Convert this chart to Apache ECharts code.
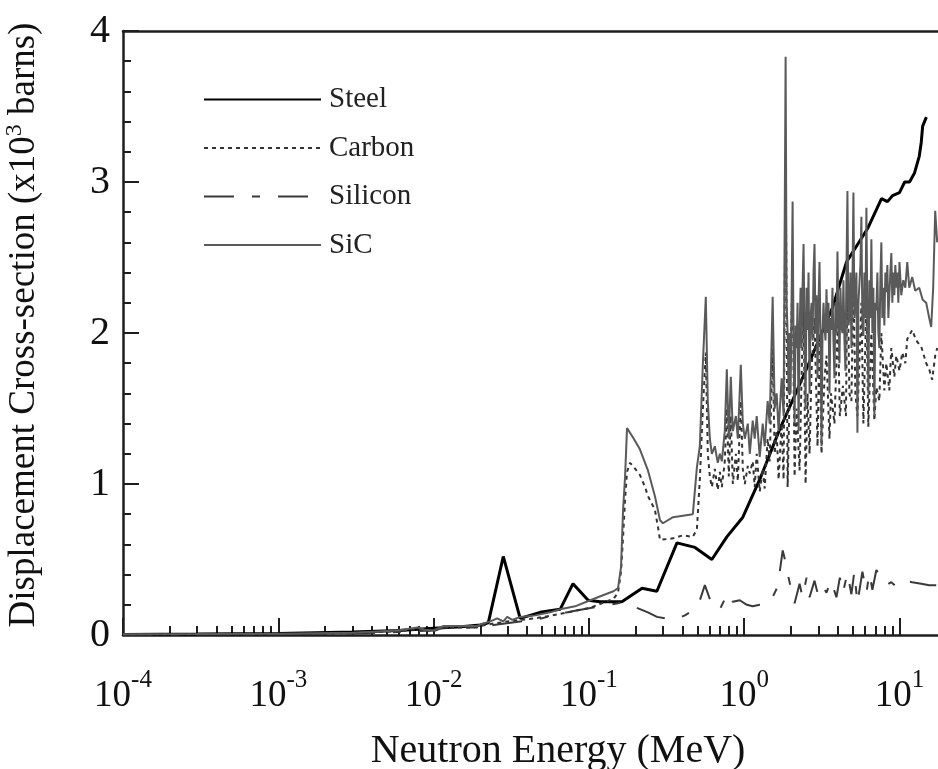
<!DOCTYPE html>
<html>
<head>
<meta charset="utf-8">
<script src="https://cdn.jsdelivr.net/npm/echarts@6/dist/echarts.min.js"></script>
<style>
html, body { margin: 0; padding: 0; background: #fff; }
#chart { width: 938px; height: 769px; }
</style>
</head>
<body>
<div id="chart"></div>
<script>
// energies in MeV, cross-sections in 10^3 barns
const steel = [
    [1e-4, 0.004], [3e-4, 0.006], [1e-3, 0.01], [3e-3, 0.02], [0.006, 0.03], [0.01, 0.045],
    [0.015, 0.055], [0.02, 0.066], [0.0225, 0.08], [0.0281, 0.52], [0.0361, 0.11], [0.0485, 0.15],
    [0.0653, 0.17], [0.079, 0.34], [0.0989, 0.23], [0.118, 0.22], [0.163, 0.22], [0.22, 0.31],
    [0.274, 0.29], [0.369, 0.61], [0.482, 0.58], [0.619, 0.50], [0.773, 0.65], [0.98, 0.78],
    [1.26, 1.03], [1.69, 1.36], [2.49, 1.75], [3.71, 2.17], [4.56, 2.47], [6.22, 2.69],
    [7.66, 2.89], [8.37, 2.87], [9.02, 2.91], [10.0, 2.93], [10.8, 3.0], [11.6, 3.0],
    [12.5, 3.06], [13.4, 3.17], [13.8, 3.26], [14.1, 3.37], [14.9, 3.43]
];

const carbon = [
    [1e-4, 0.004], [1e-3, 0.006], [3e-3, 0.012], [0.00585, 0.025], [0.0079, 0.04], [0.01, 0.025],
    [0.0116, 0.05], [0.0191, 0.05], [0.02, 0.06], [0.0257, 0.08], [0.0361, 0.10], [0.0451, 0.11],
    [0.0653, 0.14], [0.0815, 0.16], [0.102, 0.18], [0.128, 0.22], [0.144, 0.24], [0.154, 0.28],
    [0.161, 0.42], [0.166, 0.65], [0.171, 0.90], [0.176, 1.08], [0.184, 1.14], [0.192, 1.12],
    [0.213, 1.06], [0.230, 0.98], [0.240, 0.92], [0.266, 0.83], [0.279, 0.71], [0.287, 0.63],
    [0.348, 0.64], [0.403, 0.66], [0.467, 0.65], [0.496, 0.70], [0.518, 1.03], [0.542, 1.50],
    [0.566, 1.87], [0.583, 1.20], [0.601, 1.05], [0.619, 0.98], [0.647, 1.10], [0.676, 0.96],
    [0.697, 1.08], [0.718, 0.98], [0.750, 1.15], [0.773, 1.50], [0.796, 1.05], [0.820, 1.45],
    [0.845, 1.00], [0.884, 1.20], [0.910, 1.02], [0.951, 1.55], [0.980, 1.10], [1.009, 1.00],
    [1.055, 1.12], [1.086, 1.07], [1.135, 1.15], [1.169, 0.98], [1.204, 1.20], [1.259, 0.95],
    [1.316, 1.10], [1.355, 0.97], [1.416, 1.30], [1.459, 1.15], [1.525, 1.90], [1.571, 1.20],
    [1.618, 1.35], [1.666, 1.03], [1.742, 1.40], [1.794, 1.03], [1.848, 3.20], [1.904, 0.98],
    [1.961, 1.60], [2.050, 2.40], [2.111, 1.05], [2.175, 1.50], [2.273, 1.09], [2.341, 1.70],
    [2.411, 2.20], [2.484, 1.00], [2.558, 1.60], [2.635, 1.20], [2.714, 1.75], [2.837, 2.10],
    [2.966, 1.25], [3.055, 2.00], [3.147, 1.20], [3.289, 1.70], [3.388, 1.85], [3.541, 1.30],
    [3.62, 1.60], [3.813, 1.40], [4.01, 2.10], [4.13, 1.45], [4.32, 1.65], [4.52, 1.45],
    [4.62, 2.40], [4.759, 1.60], [4.902, 1.55], [5.049, 2.35], [5.201, 1.60], [5.357, 1.45],
    [5.518, 1.80], [5.684, 2.20], [5.855, 1.40], [6.121, 2.20], [6.30, 1.38], [6.591, 2.00],
    [6.889, 1.42], [7.096, 1.64], [7.418, 1.55], [7.641, 2.00], [7.99, 1.62], [8.227, 1.80],
    [8.60, 1.62], [8.858, 1.90], [9.26, 1.71], [9.538, 1.85], [10.0, 1.75], [10.42, 1.87],
    [10.9, 1.80], [11.22, 1.96], [12.08, 2.02], [12.82, 1.95], [13.8, 1.91], [14.86, 1.80],
    [15.53, 1.76], [16.24, 1.69], [16.98, 1.85], [17.49, 1.90]
];

const silicon = [
    [1e-4, 0.003], [1e-3, 0.005], [3e-3, 0.01], [0.00585, 0.02], [0.01, 0.03], [0.0116, 0.05],
    [0.0191, 0.05], [0.0257, 0.07], [0.0361, 0.09], [0.0451, 0.10], [0.0653, 0.14], [0.0815, 0.16],
    [0.118, 0.19], [0.154, 0.21], [0.166, 0.22], [0.2037, 0.18], [0.240, 0.15], [0.2744, 0.12],
    [0.358, 0.10], [0.415, 0.13], [0.482, 0.17], [0.518, 0.23], [0.558, 0.33], [0.63, 0.18],
    [0.697, 0.17], [0.785, 0.28], [0.845, 0.22], [0.937, 0.23], [1.04, 0.20], [1.135, 0.19],
    [1.259, 0.20], [1.459, 0.21], [1.642, 0.32], [1.77, 0.56], [1.848, 0.48], [1.93, 0.38],
    [1.99, 0.32], [2.111, 0.21], [2.273, 0.34], [2.376, 0.25], [2.52, 0.38], [2.635, 0.25],
    [2.837, 0.36], [2.966, 0.28], [3.147, 0.34], [3.388, 0.28], [3.62, 0.36], [3.927, 0.25],
    [4.13, 0.38], [4.32, 0.28], [4.62, 0.41], [4.902, 0.27], [5.12, 0.42], [5.357, 0.21],
    [5.77, 0.42], [6.121, 0.28], [6.398, 0.41], [6.69, 0.30], [7.096, 0.43], [7.641, 0.38],
    [8.227, 0.33], [8.858, 0.35], [9.538, 0.32], [10.74, 0.36], [12.08, 0.35], [13.8, 0.34],
    [15.53, 0.33], [17.24, 0.33]
];

const sic = [
    [1e-4, 0.005], [3e-4, 0.006], [1e-3, 0.008], [3e-3, 0.015], [0.00585, 0.03], [0.0079, 0.05],
    [0.0088, 0.035], [0.01, 0.03], [0.0116, 0.06], [0.0191, 0.06], [0.02, 0.07], [0.0232, 0.09],
    [0.0257, 0.11], [0.0281, 0.09], [0.0298, 0.12], [0.0321, 0.10], [0.0361, 0.12], [0.0451, 0.13],
    [0.0563, 0.15], [0.0653, 0.17], [0.0815, 0.19], [0.102, 0.23], [0.128, 0.27], [0.144, 0.29],
    [0.154, 0.31], [0.161, 0.45], [0.166, 0.83], [0.171, 1.05], [0.176, 1.37], [0.192, 1.31],
    [0.213, 1.23], [0.240, 1.09], [0.266, 0.92], [0.287, 0.76], [0.300, 0.74], [0.348, 0.78],
    [0.403, 0.79], [0.467, 0.80], [0.496, 1.11], [0.518, 1.25], [0.542, 1.80], [0.566, 2.24],
    [0.583, 1.55], [0.601, 1.30], [0.619, 1.20], [0.647, 1.25], [0.676, 1.14], [0.697, 1.20],
    [0.718, 1.15], [0.750, 1.35], [0.773, 1.76], [0.796, 1.30], [0.820, 1.71], [0.845, 1.35],
    [0.884, 1.45], [0.910, 1.30], [0.951, 1.79], [0.980, 1.40], [1.009, 1.30], [1.055, 1.40],
    [1.086, 1.20], [1.135, 1.42], [1.169, 1.30], [1.204, 1.45], [1.259, 1.18], [1.316, 1.40],
    [1.355, 1.25], [1.416, 1.55], [1.459, 1.40], [1.525, 2.24], [1.571, 1.50], [1.618, 1.60],
    [1.666, 1.35], [1.742, 1.70], [1.794, 1.45], [1.848, 3.83], [1.876, 2.20], [1.904, 2.00],
    [1.932, 1.60], [1.961, 2.00], [1.990, 1.60], [2.050, 2.87], [2.080, 1.90], [2.111, 1.40],
    [2.143, 2.05], [2.175, 1.90], [2.207, 2.20], [2.240, 1.35], [2.273, 2.00], [2.307, 2.30],
    [2.341, 1.90], [2.376, 2.30], [2.411, 2.59], [2.447, 2.00], [2.484, 1.50], [2.521, 2.30],
    [2.558, 2.02], [2.596, 2.40], [2.635, 1.60], [2.674, 2.10], [2.714, 2.20], [2.755, 1.95],
    [2.796, 2.40], [2.837, 2.59], [2.879, 2.00], [2.922, 2.25], [2.966, 1.70], [3.010, 2.20],
    [3.055, 2.47], [3.100, 1.95], [3.147, 1.25], [3.193, 2.00], [3.241, 2.20], [3.289, 2.05],
    [3.338, 1.95], [3.388, 2.29], [3.438, 2.00], [3.490, 2.20], [3.541, 1.60], [3.594, 2.10],
    [3.648, 2.02], [3.702, 2.30], [3.757, 1.95], [3.813, 1.70], [3.870, 2.20], [3.928, 2.00],
    [3.986, 2.54], [4.046, 2.10], [4.106, 1.80], [4.167, 2.30], [4.229, 2.05], [4.292, 2.00],
    [4.356, 2.35], [4.421, 1.95], [4.487, 1.75], [4.554, 2.40], [4.622, 2.94], [4.691, 2.05],
    [4.761, 2.10], [4.832, 2.40], [4.904, 1.90], [4.977, 2.30], [5.051, 2.93], [5.126, 2.10],
    [5.202, 2.10], [5.280, 2.40], [5.359, 1.34], [5.439, 2.20], [5.520, 2.20], [5.602, 2.45],
    [5.685, 2.77], [5.770, 2.05], [5.856, 1.98], [5.943, 2.40], [6.032, 2.10], [6.122, 2.83],
    [6.213, 2.10], [6.306, 1.60], [6.400, 2.35], [6.495, 2.10], [6.592, 2.62], [6.690, 2.00],
    [6.790, 2.30], [6.891, 1.45], [6.994, 2.20], [7.098, 2.15], [7.204, 2.40], [7.311, 2.00],
    [7.420, 1.90], [7.531, 2.35], [7.643, 2.60], [7.757, 2.10], [7.873, 2.30], [7.990, 2.05],
    [8.109, 2.40], [8.230, 2.27], [8.353, 2.45], [8.477, 2.10], [8.604, 2.10], [8.732, 2.40],
    [8.862, 2.53], [8.994, 2.20], [9.128, 2.40], [9.264, 2.25], [9.402, 2.45], [9.542, 2.30],
    [9.685, 2.40], [9.829, 2.20], [10.0, 2.47], [10.27, 2.25], [10.58, 2.35], [10.9, 2.30],
    [11.22, 2.47], [11.56, 2.30], [12.08, 2.37], [12.63, 2.28], [13.4, 2.30], [14.1, 2.22],
    [14.86, 2.20], [15.53, 2.10], [16.0, 2.04], [16.48, 2.30], [16.98, 2.81], [17.49, 2.60]
];

const majorTicks = [1e-4, 1e-3, 1e-2, 1e-1, 1, 10];
const minorSteps = [2, 3, 4, 5, 6, 7, 8, 9];
const xMin = 1e-4;
const xMax = 17.7;
const legendNames = ["Steel", "Carbon", "Silicon", "SiC"];

const FONT = "Liberation Serif";
const INK = "#1e1e1e";

const minorTicks = [];
majorTicks.slice(0, -1).forEach(d => {
    minorSteps.forEach(k => minorTicks.push(d * k));
});

const chart = echarts.init(document.getElementById("chart"));

function lineSeries(name, data, color, width, type, z) {
    return {
        name: name,
        type: "line",
        data: data,
        symbol: "none",
        showSymbol: false,
        z: z,
        lineStyle: { color: color, width: width, type: type },
        itemStyle: { color: color }
    };
}

const axisLineStyle = { color: INK, width: 2.5 };

const option = {
    animation: false,
    backgroundColor: "#fff",
    grid: { left: 123, right: 0, top: 31, bottom: 134, outerBoundsMode: "none" },
    legend: {
        data: legendNames,
        orient: "vertical",
        left: 203,
        top: 85,
        padding: 0,
        itemWidth: 117,
        itemHeight: 14,
        itemGap: 19.5,
        itemStyle: { opacity: 0 },
        textStyle: { fontFamily: FONT, fontSize: 29, color: "#222", padding: [0, 0, 0, 3] }
    },
    xAxis: [
        {
            type: "log",
            logBase: 10,
            min: xMin,
            max: xMax,
            position: "bottom",
            axisLine: { show: true, onZero: false, lineStyle: axisLineStyle },
            axisTick: { show: true, inside: true, length: 17, customValues: majorTicks, lineStyle: { color: INK, width: 2 } },
            axisLabel: {
                customValues: majorTicks,
                margin: 33,
                formatter: function (v) {
                    const e = Math.round(Math.log10(v));
                    return "{b|10}{e|" + e + "}";
                },
                rich: {
                    b: { fontFamily: FONT, fontSize: 37, color: "#111", verticalAlign: "bottom" },
                    e: { fontFamily: FONT, fontSize: 25, color: "#111", verticalAlign: "bottom", padding: [0, 0, 22, 0] }
                }
            },
            splitLine: { show: false },
            name: "Neutron Energy (MeV)",
            nameLocation: "middle",
            nameGap: 96,
            nameTextStyle: { fontFamily: FONT, fontSize: 40, color: "#111", padding: [0, 0, 0, 55] }
        },
        {
            type: "log",
            logBase: 10,
            min: xMin,
            max: xMax,
            position: "bottom",
            axisLine: { show: false },
            axisTick: { show: true, inside: true, length: 9, customValues: minorTicks, lineStyle: { color: INK, width: 2 } },
            axisLabel: { show: false },
            splitLine: { show: false }
        },
        {
            type: "log",
            logBase: 10,
            min: xMin,
            max: xMax,
            position: "top",
            axisLine: { show: true, lineStyle: axisLineStyle },
            axisTick: { show: false },
            axisLabel: { show: false },
            splitLine: { show: false }
        }
    ],
    yAxis: {
        type: "value",
        min: 0,
        max: 4,
        interval: 1,
        axisLine: { show: true, lineStyle: axisLineStyle },
        axisTick: { show: true, inside: true, length: 16, lineStyle: { color: INK, width: 2 } },
        minorTick: { show: true, splitNumber: 5, length: 8, lineStyle: { color: INK, width: 2 } },
        axisLabel: { fontFamily: FONT, fontSize: 40, color: "#111", margin: 13 },
        splitLine: { show: false },
        name: "{a|Displacement Cross-section (x10}{s|3}{a| barns)}",
        nameLocation: "middle",
        nameRotate: 90,
        nameGap: 80,
        nameTextStyle: {
            padding: [0, 0, 0, 16],
            rich: {
                a: { fontFamily: FONT, fontSize: 37, color: "#111", verticalAlign: "bottom" },
                s: { fontFamily: FONT, fontSize: 24, color: "#111", verticalAlign: "bottom", padding: [0, 0, 16, 0] }
            }
        }
    },
    series: [
        lineSeries("Steel", steel, "#000", 3, "solid", 3),
        lineSeries("Silicon", silicon, "#3a3a3a", 2, [30, 18, 8, 18], 4),
        lineSeries("Carbon", carbon, "#333", 2, [4, 4], 5),
        lineSeries("SiC", sic, "#5a5a5a", 2, "solid", 6)
    ]
};

chart.setOption(option);
window.addEventListener("resize", () => chart.resize());
</script>
</body>
</html>
